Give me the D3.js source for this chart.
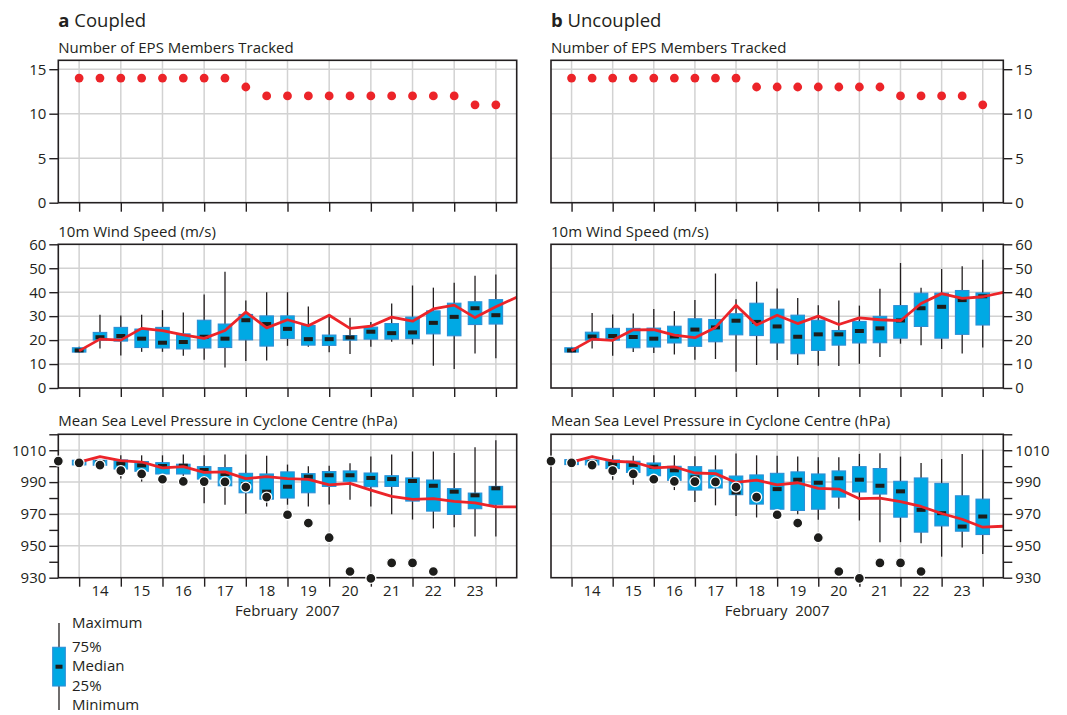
<!DOCTYPE html>
<html>
<head>
<meta charset="utf-8">
<script src="https://cdn.jsdelivr.net/npm/d3@7/dist/d3.min.js"></script>
<style>
  html, body { margin: 0; padding: 0; background: #fff; }
  svg { display: block; }
  text { font-family: "Open Sans", "Noto Sans", sans-serif; fill: #231f20; }
</style>
</head>
<body>
<svg id="chart" width="1067" height="715"></svg>
<script>
// ---------------- DATA ----------------
// forecast verifying times (day of February 2007, 12-hourly)
const times = [14, 14.5, 15, 15.5, 16, 16.5, 17, 17.5, 18, 18.5, 19, 19.5, 20, 20.5, 21, 21.5, 22, 22.5, 23, 23.5, 24];
// red line (control) times
const lineTimes = [14, 14.5, 15, 15.5, 16, 16.5, 17, 17.5, 18, 18.5, 19, 19.5, 20, 20.5, 21, 21.5, 22, 22.5, 23, 23.5, 24, 24.5];
// observed track times
const obsTimes = [13.5, 14, 14.5, 15, 15.5, 16, 16.5, 17, 17.5, 18, 18.5, 19, 19.5, 20, 20.5, 21, 21.5, 22, 22.5];
const dayLabels = ["14", "15", "16", "17", "18", "19", "20", "21", "22", "23"];
const dayTicks = [14, 15, 16, 17, 18, 19, 20, 21, 22, 23, 24];

// Number of EPS members tracked
const membersCoupled   = [14, 14, 14, 14, 14, 14, 14, 14, 13, 12, 12, 12, 12, 12, 12, 12, 12, 12, 12, 11, 11];
const membersUncoupled = [14, 14, 14, 14, 14, 14, 14, 14, 14, 13, 13, 13, 13, 13, 13, 13, 12, 12, 12, 12, 11];

// 10m wind speed (m/s) box statistics
const windCoupledMin = [14.8, 16.5, 13.6, 15.1, 15.1, 13.5, 11.8, 8.6, 11.3, 11.5, 17.6, 17.2, 14.9, 14.2, 17.2, 19.3, 18.2, 9.3, 7.9, 14.4, 12.4];
const windCoupledQ1  = [15.0, 20.0, 19.6, 16.9, 16.7, 16.3, 16.7, 16.9, 20.1, 17.5, 20.7, 17.9, 17.8, 20.0, 20.4, 20.4, 20.6, 22.6, 21.8, 26.5, 26.7];
const windCoupledMed = [15.7, 21.2, 21.7, 20.6, 18.9, 19.2, 21.4, 20.6, 28.3, 26.7, 24.7, 20.4, 20.4, 21.1, 23.5, 22.9, 23.2, 27.2, 29.7, 33.3, 30.4];
const windCoupledQ3  = [16.8, 23.2, 25.3, 24.6, 25.3, 22.6, 28.3, 26.7, 30.7, 30.1, 30.1, 26.1, 22.1, 21.9, 25.4, 26.9, 29.6, 32.2, 35.4, 36.0, 36.9];
const windCoupledMax = [17.2, 30.6, 30.3, 30.6, 32.5, 31.5, 39.0, 48.5, 36.5, 40.0, 40.0, 34.0, 30.0, 29.3, 27.6, 35.3, 42.8, 41.9, 43.9, 46.9, 47.4];
const windCoupledLine = [15.5, 20.4, 20.0, 24.9, 24.0, 22.2, 20.7, 24.0, 31.7, 25.1, 28.5, 26.0, 30.4, 24.9, 25.8, 29.6, 27.9, 33.0, 34.6, 29.4, 33.9, 37.9];

const windUncoupledMin = [14.8, 16.5, 13.5, 15.0, 14.6, 14.0, 11.8, 12.1, 6.8, 9.6, 11.7, 9.6, 9.3, 9.2, 10.1, 12.9, 18.5, 17.9, 16.3, 14.4, 16.9];
const windUncoupledQ1  = [15.0, 20.0, 20.0, 16.8, 17.1, 18.8, 17.4, 19.3, 22.2, 21.9, 18.8, 14.3, 15.7, 17.9, 18.8, 18.9, 20.8, 25.7, 20.8, 22.4, 26.3];
const windUncoupledMed = [15.7, 21.5, 21.7, 21.3, 20.6, 21.5, 24.4, 25.3, 28.1, 27.6, 25.7, 21.4, 22.4, 22.4, 23.8, 24.9, 28.2, 33.3, 33.9, 36.7, 38.3];
const windUncoupledQ3  = [16.8, 23.3, 24.9, 24.9, 25.0, 25.8, 28.9, 28.6, 31.0, 35.4, 32.9, 30.4, 28.3, 24.0, 27.8, 29.9, 34.4, 39.6, 39.6, 40.7, 39.7];
const windUncoupledMax = [17.2, 31.3, 30.7, 31.1, 33.0, 32.1, 36.7, 47.8, 37.1, 44.4, 41.5, 37.6, 34.6, 36.5, 34.4, 41.4, 52.2, 41.9, 49.7, 50.8, 53.5];
const windUncoupledLine = [15.6, 20.4, 19.9, 24.3, 24.4, 22.1, 21.0, 25.3, 34.6, 26.3, 30.4, 26.9, 30.0, 26.5, 29.3, 28.5, 28.1, 35.3, 39.4, 37.4, 38.1, 39.9];

// Mean sea level pressure in cyclone centre (hPa) box statistics
const mslpCoupledMin = [1000.6, 1000.4, 992.2, 990.3, 993.6, 987.3, 976.8, 975.8, 970.1, 974.7, 975.8, 974.7, 976.0, 978.9, 974.7, 969.9, 966.5, 960.9, 961.7, 955.8, 955.8];
const mslpCoupledQ1  = [1000.8, 1000.6, 998.2, 996.8, 995.1, 995.1, 991.9, 987.7, 983.3, 979.3, 980.0, 983.3, 987.3, 990.5, 987.1, 987.3, 978.1, 971.8, 969.7, 973.3, 975.8];
const mslpCoupledMed = [1002.0, 1002.6, 1001.6, 1000.5, 1000.1, 1000.3, 997.6, 995.1, 988.8, 984.0, 987.1, 993.4, 994.3, 994.3, 992.6, 991.9, 990.7, 987.7, 984.0, 981.7, 986.1];
const mslpCoupledQ3  = [1003.7, 1003.7, 1003.9, 1002.9, 1002.2, 1001.2, 999.7, 999.1, 995.5, 995.1, 996.4, 995.3, 996.6, 997.0, 995.7, 994.0, 992.6, 991.3, 985.9, 983.1, 987.3];
const mslpCoupledMax = [1004.0, 1004.0, 1006.8, 1006.8, 1006.8, 1007.3, 1006.8, 1007.3, 1007.3, 1006.6, 1001.0, 999.9, 1000.3, 1001.8, 1006.0, 1007.3, 1009.2, 1009.2, 1008.3, 1011.9, 1016.3];
const mslpCoupledLine = [1002.6, 1006.0, 1003.5, 1002.6, 998.9, 999.7, 996.1, 996.4, 992.2, 993.4, 992.2, 991.7, 988.2, 989.2, 985.0, 981.0, 979.1, 979.6, 977.9, 977.0, 974.5, 974.5];

const mslpUncoupledMin = [1000.8, 1000.6, 991.5, 988.4, 991.5, 985.0, 977.5, 975.4, 968.8, 967.8, 971.2, 969.9, 966.3, 973.3, 965.9, 952.3, 952.3, 951.6, 943.2, 948.9, 944.9];
const mslpUncoupledQ1  = [1001.0, 1000.8, 998.5, 996.1, 994.0, 991.1, 985.0, 986.3, 982.1, 976.2, 973.0, 972.2, 973.0, 980.6, 983.8, 982.5, 968.0, 958.6, 962.5, 959.2, 957.1];
const mslpUncoupledMed = [1002.6, 1002.6, 1001.4, 1000.8, 999.7, 997.4, 993.0, 990.9, 983.5, 981.0, 985.6, 991.5, 989.6, 992.4, 991.5, 987.7, 984.2, 972.6, 970.5, 962.1, 968.4];
const mslpUncoupledQ3  = [1004.1, 1003.9, 1003.9, 1003.1, 1002.0, 999.9, 999.7, 997.6, 993.8, 994.5, 995.5, 996.4, 995.1, 997.0, 999.7, 998.5, 990.5, 992.6, 989.2, 981.4, 979.3];
const mslpUncoupledMax = [1004.3, 1004.1, 1006.8, 1006.6, 1006.8, 1006.8, 1006.2, 1006.8, 1007.9, 1006.8, 1006.6, 1006.0, 1005.6, 1005.6, 1007.7, 1008.1, 1006.0, 1002.0, 1004.5, 1007.7, 1010.4];
const mslpUncoupledLine = [1002.6, 1006.0, 1003.1, 1002.6, 998.9, 999.5, 995.7, 995.3, 989.8, 991.3, 988.2, 989.6, 986.1, 985.6, 979.6, 980.0, 977.7, 974.7, 970.3, 966.7, 961.7, 962.3];

// observed cyclone centre pressure (hPa)
const mslpObserved = [1003.2, 1002.1, 1000.7, 997.2, 995.1, 991.8, 990.4, 990.3, 990.1, 986.9, 980.6, 969.5, 964.3, 955.1, 933.9, 929.6, 939.3, 939.3, 933.9];

const titles = { a: "Coupled", b: "Uncoupled" };
const subTitles = ["Number of EPS Members Tracked", "10m Wind Speed (m/s)", "Mean Sea Level Pressure in Cyclone Centre (hPa)"];
const legendLabels = ["Maximum", "75%", "Median", "25%", "Minimum"];
const monthLabel = "February\u00a0 2007";

// ---------------- STYLE ----------------
const C = {
  ink: "#231f20",
  grid: "#d2d2d2",
  red: "#ec2429",
  boxFill: "#00a9e4",
  boxStroke: "#2c8fd6",
  whisker: "#231f20"
};

const svg = d3.select("#chart");

const columns = [
  { key: "a", x0: 58.3, x1: 516.7, side: "left",
    members: membersCoupled,
    wind: { min: windCoupledMin, q1: windCoupledQ1, med: windCoupledMed, q3: windCoupledQ3, max: windCoupledMax, line: windCoupledLine },
    mslp: { min: mslpCoupledMin, q1: mslpCoupledQ1, med: mslpCoupledMed, q3: mslpCoupledQ3, max: mslpCoupledMax, line: mslpCoupledLine } },
  { key: "b", x0: 551, x1: 1003.3, side: "right",
    members: membersUncoupled,
    wind: { min: windUncoupledMin, q1: windUncoupledQ1, med: windUncoupledMed, q3: windUncoupledQ3, max: windUncoupledMax, line: windUncoupledLine },
    mslp: { min: mslpUncoupledMin, q1: mslpUncoupledQ1, med: mslpUncoupledMed, q3: mslpUncoupledQ3, max: mslpUncoupledMax, line: mslpUncoupledLine } }
];

const rows = [
  { y0: 60.3, y1: 202.7, domain: [0, 16], ticks: [0, 5, 10, 15], grid: [5, 10, 15], labelled: null, subY: 52.5 },
  { y0: 244.3, y1: 388, domain: [0, 60], ticks: [0, 10, 20, 30, 40, 50, 60], grid: [10, 20, 30, 40, 50], labelled: null, subY: 237 },
  { y0: 434.3, y1: 577.7, domain: [930, 1020], ticks: [930, 940, 950, 960, 970, 980, 990, 1000, 1010, 1020], grid: [950, 970, 990, 1010], labelled: [930, 950, 970, 990, 1010], subY: 425.5 }
];

const BOX_W = 13.5, MED_W = 9, MED_H = 4;

columns.forEach(col => {
  const x = d3.scaleLinear().domain([13.5, 24.5]).range([col.x0, col.x1]);
  const g = svg.append("g");

  // title
  const t = g.append("text").attr("x", col.x0).attr("y", 27).style("font-size", "18.5px");
  t.append("tspan").style("font-weight", "bold").text(col.key);
  t.append("tspan").text(" " + titles[col.key]);

  rows.forEach((row, ri) => {
    const y = d3.scaleLinear().domain(row.domain).range([row.y1, row.y0]);
    const pg = g.append("g");

    pg.append("text").attr("x", col.x0).attr("y", row.subY).style("font-size", "15px").text(subTitles[ri]);

    // grid
    pg.append("g").selectAll("line").data(row.grid).join("line")
      .attr("x1", col.x0).attr("x2", col.x1)
      .attr("y1", d => y(d)).attr("y2", d => y(d))
      .attr("stroke", C.grid).attr("stroke-width", 1.5);
    pg.append("g").selectAll("line").data(dayTicks).join("line")
      .attr("x1", d => x(d)).attr("x2", d => x(d))
      .attr("y1", row.y0).attr("y2", row.y1)
      .attr("stroke", C.grid).attr("stroke-width", 1.5);

    // y axis
    const yAxis = (col.side === "left" ? d3.axisLeft(y) : d3.axisRight(y))
      .tickValues(row.ticks).tickSize(9).tickPadding(3)
      .tickFormat(d => (row.labelled ? (row.labelled.includes(d) ? d : "") : d));
    const ya = pg.append("g")
      .attr("transform", `translate(${col.side === "left" ? col.x0 : col.x1},0)`)
      .call(yAxis);
    ya.select(".domain").remove();
    ya.selectAll("line").attr("stroke", C.ink).attr("stroke-width", 1.4);
    ya.selectAll("text").style("font-size", "15px").style("font-family", '"Open Sans", sans-serif').attr("fill", C.ink);

    // x axis ticks
    const xa = pg.append("g").attr("transform", `translate(0,${row.y1})`)
      .call(d3.axisBottom(x).tickValues(dayTicks).tickSize(9).tickFormat(""));
    xa.select(".domain").remove();
    xa.selectAll("line").attr("stroke", C.ink).attr("stroke-width", 1.4);

    if (ri === 0) {
      pg.append("g").selectAll("circle").data(times).join("circle")
        .attr("cx", d => x(d)).attr("cy", (d, i) => y(col.members[i]))
        .attr("r", 4.4).attr("fill", C.red);
    } else {
      const s = ri === 1 ? col.wind : col.mslp;
      const bg = pg.append("g");
      // whiskers
      bg.append("g").selectAll("line").data(times).join("line")
        .attr("x1", d => x(d)).attr("x2", d => x(d))
        .attr("y1", (d, i) => y(s.min[i])).attr("y2", (d, i) => y(s.max[i]))
        .attr("stroke", C.whisker).attr("stroke-width", 1.3);
      // boxes
      bg.append("g").selectAll("rect").data(times).join("rect")
        .attr("x", d => x(d) - BOX_W / 2).attr("width", BOX_W)
        .attr("y", (d, i) => y(s.q3[i])).attr("height", (d, i) => y(s.q1[i]) - y(s.q3[i]))
        .attr("fill", C.boxFill).attr("stroke", C.boxStroke).attr("stroke-width", 1.1);
      // medians
      bg.append("g").selectAll("rect").data(times).join("rect")
        .attr("x", d => x(d) - MED_W / 2).attr("width", MED_W)
        .attr("y", (d, i) => y(s.med[i]) - MED_H / 2).attr("height", MED_H)
        .attr("fill", "#1d1d1b");
      // control line
      const line = d3.line().x(d => x(d[0])).y(d => y(d[1]));
      pg.append("path").datum(lineTimes.map((tt, i) => [tt, s.line[i]]))
        .attr("d", line).attr("fill", "none").attr("stroke", C.red)
        .attr("stroke-width", 2.8).attr("stroke-linejoin", "round");
    }

    // frame
    pg.append("rect")
      .attr("x", col.x0).attr("y", row.y0)
      .attr("width", col.x1 - col.x0).attr("height", row.y1 - row.y0)
      .attr("fill", "none").attr("stroke", C.ink).attr("stroke-width", 1.6);

    if (ri === 2) {
      // observed track dots (drawn above the frame)
      pg.append("g").selectAll("circle").data(obsTimes).join("circle")
        .attr("cx", d => x(d)).attr("cy", (d, i) => y(mslpObserved[i]))
        .attr("r", 5).attr("fill", "#1d1d1b").attr("stroke", "#fff").attr("stroke-width", 1.3);

      pg.append("g").selectAll("text").data(dayLabels).join("text")
        .attr("x", d => x(+d + 0.5)).attr("y", 595.5)
        .attr("text-anchor", "middle").style("font-size", "15px").text(d => d);
      pg.append("text").attr("x", (col.x0 + col.x1) / 2).attr("y", 616)
        .attr("text-anchor", "middle").style("font-size", "15px").text(monthLabel);
    }
  });
});

// ---------------- LEGEND ----------------
const lg = svg.append("g");
lg.append("line").attr("x1", 59).attr("x2", 59).attr("y1", 623).attr("y2", 710)
  .attr("stroke", C.whisker).attr("stroke-width", 1.3);
lg.append("rect").attr("x", 52.7).attr("y", 647.3).attr("width", 12.6).attr("height", 38.7)
  .attr("fill", C.boxFill).attr("stroke", C.boxStroke).attr("stroke-width", 1.1);
lg.append("rect").attr("x", 55.5).attr("y", 664.7).attr("width", 7).attr("height", 4).attr("fill", "#1d1d1b");
const legendY = [628, 652, 671, 691, 710];
lg.selectAll("text").data(legendLabels).join("text")
  .attr("x", 72).attr("y", (d, i) => legendY[i]).style("font-size", "15px").text(d => d);
</script>
</body>
</html>
